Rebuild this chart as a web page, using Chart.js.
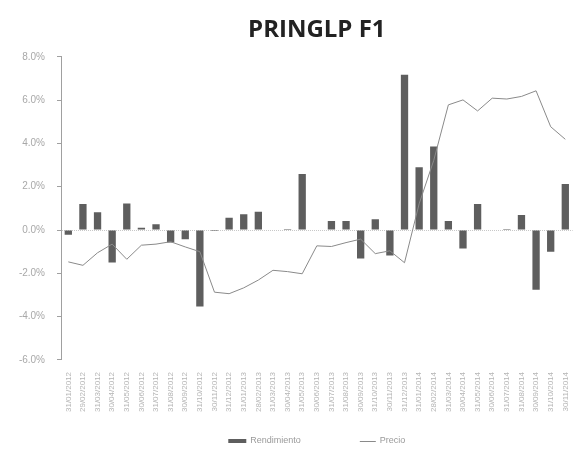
<!DOCTYPE html>
<html>
<head>
<meta charset="utf-8">
<script src="https://cdn.jsdelivr.net/npm/chart.js@4.4.1/dist/chart.umd.min.js"></script>
<style>
  html, body { margin: 0; padding: 0; background: #ffffff; overflow: hidden; }
  #wrap { width: 579px; height: 451px; }
</style>
</head>
<body>
<div id="wrap"><canvas id="c" width="579" height="451"></canvas></div>
<script>
const categories = [
  "31/01/2012","29/02/2012","31/03/2012","30/04/2012","31/05/2012","30/06/2012","31/07/2012",
  "31/08/2012","30/09/2012","31/10/2012","30/11/2012","31/12/2012","31/01/2013","28/02/2013",
  "31/03/2013","30/04/2013","31/05/2013","30/06/2013","31/07/2013","31/08/2013","30/09/2013",
  "31/10/2013","30/11/2013","31/12/2013","31/01/2014","28/02/2014","31/03/2014","30/04/2014",
  "31/05/2014","30/06/2014","31/07/2014","31/08/2014","30/09/2014","31/10/2014","30/11/2014"
];
const rendimiento = [
  -0.22, 1.20, 0.82, -1.50, 1.22, 0.10, 0.27, -0.58, -0.43, -3.53,
  -0.05, 0.57, 0.73, 0.85, 0.02, 0.05, 2.59, 0.03, 0.42, 0.42,
  -1.32, 0.50, -1.18, 7.17, 2.90, 3.86, 0.42, -0.85, 1.20, 0.02,
  0.05, 0.70, -2.76, -1.00, 2.13
];
const precio = [
  -1.47, -1.63, -1.05, -0.65, -1.35, -0.70, -0.65, -0.54, -0.78, -1.00,
  -2.87, -2.94, -2.67, -2.31, -1.86, -1.92, -2.02, -0.73, -0.76, -0.58,
  -0.42, -1.09, -0.96, -1.51, 1.21, 3.22, 5.78, 6.01, 5.50, 6.09,
  6.05, 6.17, 6.43, 4.77, 4.19
];
const yTicks = [8, 6, 4, 2, 0, -2, -4, -6];

// Legend drawn with wide spacing between the two entries, as in the reference
const spacedLegend = {
  id: 'spacedLegend',
  afterDraw(chart) {
    const ctx = chart.ctx;
    const ds = chart.data.datasets;
    const bar = ds.find(d => d.type === 'bar');
    const line = ds.find(d => d.type === 'line');
    ctx.save();
    ctx.font = '9px "Liberation Sans"';
    ctx.textBaseline = 'middle';
    ctx.textAlign = 'left';
    const y = 441;
    const w1 = 18 + 4 + ctx.measureText(bar.label).width;
    const w2 = 16 + 4 + ctx.measureText(line.label).width;
    const gap = 59;
    const total = w1 + gap + w2;
    const cx = (chart.chartArea.left + chart.chartArea.right) / 2;
    let x = cx - total / 2;
    ctx.fillStyle = bar.backgroundColor;
    ctx.fillRect(x, y - 2, 18, 4);
    ctx.fillStyle = '#9a9a9a';
    ctx.fillText(bar.label, x + 22, y);
    x += w1 + gap;
    ctx.strokeStyle = line.borderColor;
    ctx.lineWidth = 1;
    ctx.beginPath();
    ctx.moveTo(x, y + 0.5);
    ctx.lineTo(x + 16, y + 0.5);
    ctx.stroke();
    ctx.fillStyle = '#9a9a9a';
    ctx.fillText(line.label, x + 20, y);
    ctx.restore();
  }
};

new Chart(document.getElementById('c'), {
  data: {
    labels: categories,
    datasets: [
      {
        type: 'line',
        label: 'Precio',
        data: precio,
        borderColor: '#8a8a8a',
        backgroundColor: '#8a8a8a',
        borderWidth: 1,
        pointRadius: 0,
        tension: 0,
        order: 0
      },
      {
        type: 'bar',
        label: 'Rendimiento',
        data: rendimiento,
        backgroundColor: '#5e5e5e',
        borderWidth: 0,
        barPercentage: 0.5,
        categoryPercentage: 1.0,
        order: 1
      }
    ]
  },
  plugins: [spacedLegend],
  options: {
    responsive: false,
    animation: false,
    layout: { padding: { left: 0, right: 2, top: 0, bottom: 35 } },
    plugins: {
      title: {
        display: true,
        text: 'PRINGLP F1',
        fullSize: false,
        color: '#222222',
        font: { family: 'Open Sans', size: 24, weight: 'bold' },
        padding: { top: 16, bottom: 12 }
      },
      legend: { display: false },
      tooltip: { enabled: false }
    },
    scales: {
      x: {
        grid: { display: false },
        border: { display: false },
        ticks: {
          autoSkip: false,
          minRotation: 90,
          maxRotation: 90,
          color: '#b5b5b5',
          font: { family: 'Liberation Sans', size: 8 },
          padding: 4
        }
      },
      y: {
        min: -6,
        max: 8,
        afterBuildTicks: (axis) => { axis.ticks = yTicks.map(v => ({ value: v })); },
        afterFit: (axis) => { axis.width = 61; },
        border: { display: true, color: '#a0a0a0', dash: [1, 1] },
        grid: {
          drawOnChartArea: true,
          color: (ctx) => (ctx.tick && ctx.tick.value === 0) ? '#c8c8c8' : 'rgba(0,0,0,0)',
          tickColor: '#a0a0a0',
          tickLength: 4
        },
        ticks: {
          color: '#a8a8a8',
          font: { family: 'Liberation Sans', size: 10 },
          padding: 12,
          callback: (v) => v.toFixed(1) + '%'
        }
      }
    }
  }
});
</script>
</body>
</html>
